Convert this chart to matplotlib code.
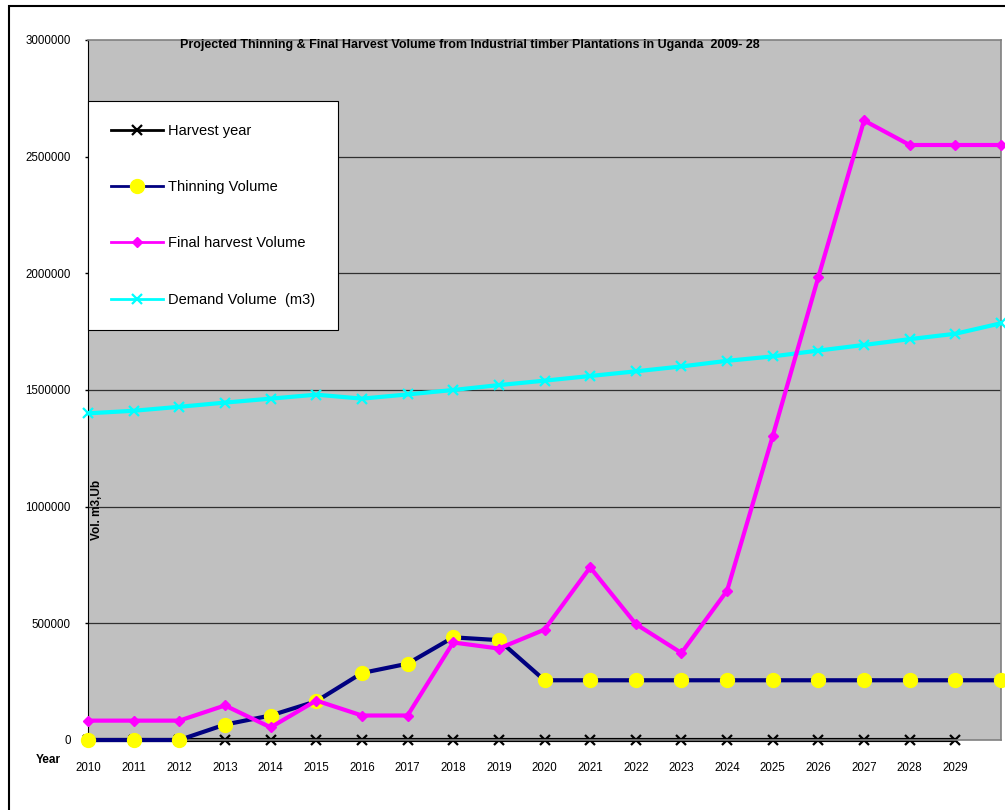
import numpy as np
import matplotlib
matplotlib.use("Agg")
import matplotlib.pyplot as plt
from matplotlib.patches import Rectangle

plt.rcParams['font.family'] = ['Liberation Sans', 'DejaVu Sans']

# данные
years = [str(y) for y in range(2010, 2030)]   # подписи оси X (последняя точка без подписи)
harvest_year = [0] * 20
thinning = [0, 0, 0, 66000, 105000, 166000, 287000, 327000, 440000, 428000,
            256000, 256000, 256000, 256000, 256000, 256000, 256000, 256000,
            256000, 256000, 256000]
final_harvest = [83000, 83000, 83000, 148000, 54000, 169000, 105000, 105000,
                 418000, 392000, 473000, 740000, 497000, 373000, 640000,
                 1303000, 1985000, 2655000, 2550000, 2550000, 2550000]
demand = [1400000, 1411000, 1428000, 1446000, 1463000, 1480000, 1463000,
          1481000, 1500000, 1521000, 1540000, 1560000, 1580000, 1601000,
          1625000, 1644000, 1669000, 1693000, 1718000, 1741000, 1786000]
y_ticks = [0, 500000, 1000000, 1500000, 2000000, 2500000, 3000000]

W, H = 1005, 810
fig = plt.figure(figsize=(W / 100, H / 100), dpi=100, facecolor='white')
ax = fig.add_axes([88 / W, 1 - 740 / H, 913 / W, 700 / H])
ax.set_facecolor('#C0C0C0')

# рамка вокруг всей диаграммы
fig.patches.append(Rectangle((9 / W, -0.1), 1.2, 1 - 5.5 / H + 0.1,
                             transform=fig.transFigure, fill=False,
                             edgecolor='black', lw=1.5))

for _y in y_ticks[1:-1]:
    ax.axhline(_y, color='#303030', lw=0.9, zorder=1)

x = np.arange(21)
h1, = ax.plot(x[:20], harvest_year, color='black', lw=3, marker='x', ms=7.5,
              mew=1.6, zorder=2, clip_on=False, label='Harvest year')
h4, = ax.plot(x, demand, color='#00FFFF', lw=3, marker='x', ms=7.5, mew=1.6,
              zorder=3, clip_on=False, label='Demand Volume  (m3)')
h2, = ax.plot(x, thinning, color='#000080', lw=3, marker='o', ms=10,
              mfc='#FFFF00', mec='#FFFF00', zorder=4, clip_on=False,
              label='Thinning Volume')
h3, = ax.plot(x, final_harvest, color='#FF00FF', lw=3, marker='D', ms=5,
              mfc='#FF00FF', mec='#FF00FF', zorder=5, clip_on=False,
              label='Final harvest Volume')

ax.set_xlim(0, 20)
ax.set_ylim(0, 3000000)
ax.set_xticks(x[:20])
ax.set_xticklabels(years, fontsize=8.3)
ax.tick_params(axis='x', length=0, pad=16)
ax.set_yticks(y_ticks)
ax.set_yticklabels([str(v) for v in y_ticks], fontsize=8.3)
ax.tick_params(axis='y', length=2.5, width=1, pad=10, direction='out')

ax.spines['left'].set_color('black')
for _s in ('top', 'right', 'bottom'):
    ax.spines[_s].set_color('#808080')
    ax.spines[_s].set_linewidth(1.2)

fig.text(470 / W, 1 - 45 / H,
         'Projected Thinning & Final Harvest Volume from Industrial timber '
         'Plantations in Uganda  2009- 28', fontsize=9, fontweight='bold',
         ha='center', va='center')
fig.text(97 / W, 1 - 510 / H, 'Vol. m3,Ub', rotation=90, fontsize=8.5,
         fontweight='bold', ha='center', va='center')
fig.text(48 / W, 1 - 760 / H, 'Year', fontsize=8.5, fontweight='bold',
         ha='center', va='center')

leg = ax.legend(handles=[h1, h2, h3, h4], loc='upper left',
                bbox_to_anchor=(88 / W, 1 - 101 / H),
                bbox_transform=fig.transFigure, borderaxespad=0,
                fontsize=10.5, labelspacing=2.9, handlelength=3.56,
                handletextpad=0.35, borderpad=1.57, fancybox=False,
                framealpha=1, edgecolor='black')
leg.get_frame().set_linewidth(0.8)
for _line in leg.get_lines():
    _line.set_linewidth(2)

fig.savefig('out.png', dpi=100, facecolor='white')
